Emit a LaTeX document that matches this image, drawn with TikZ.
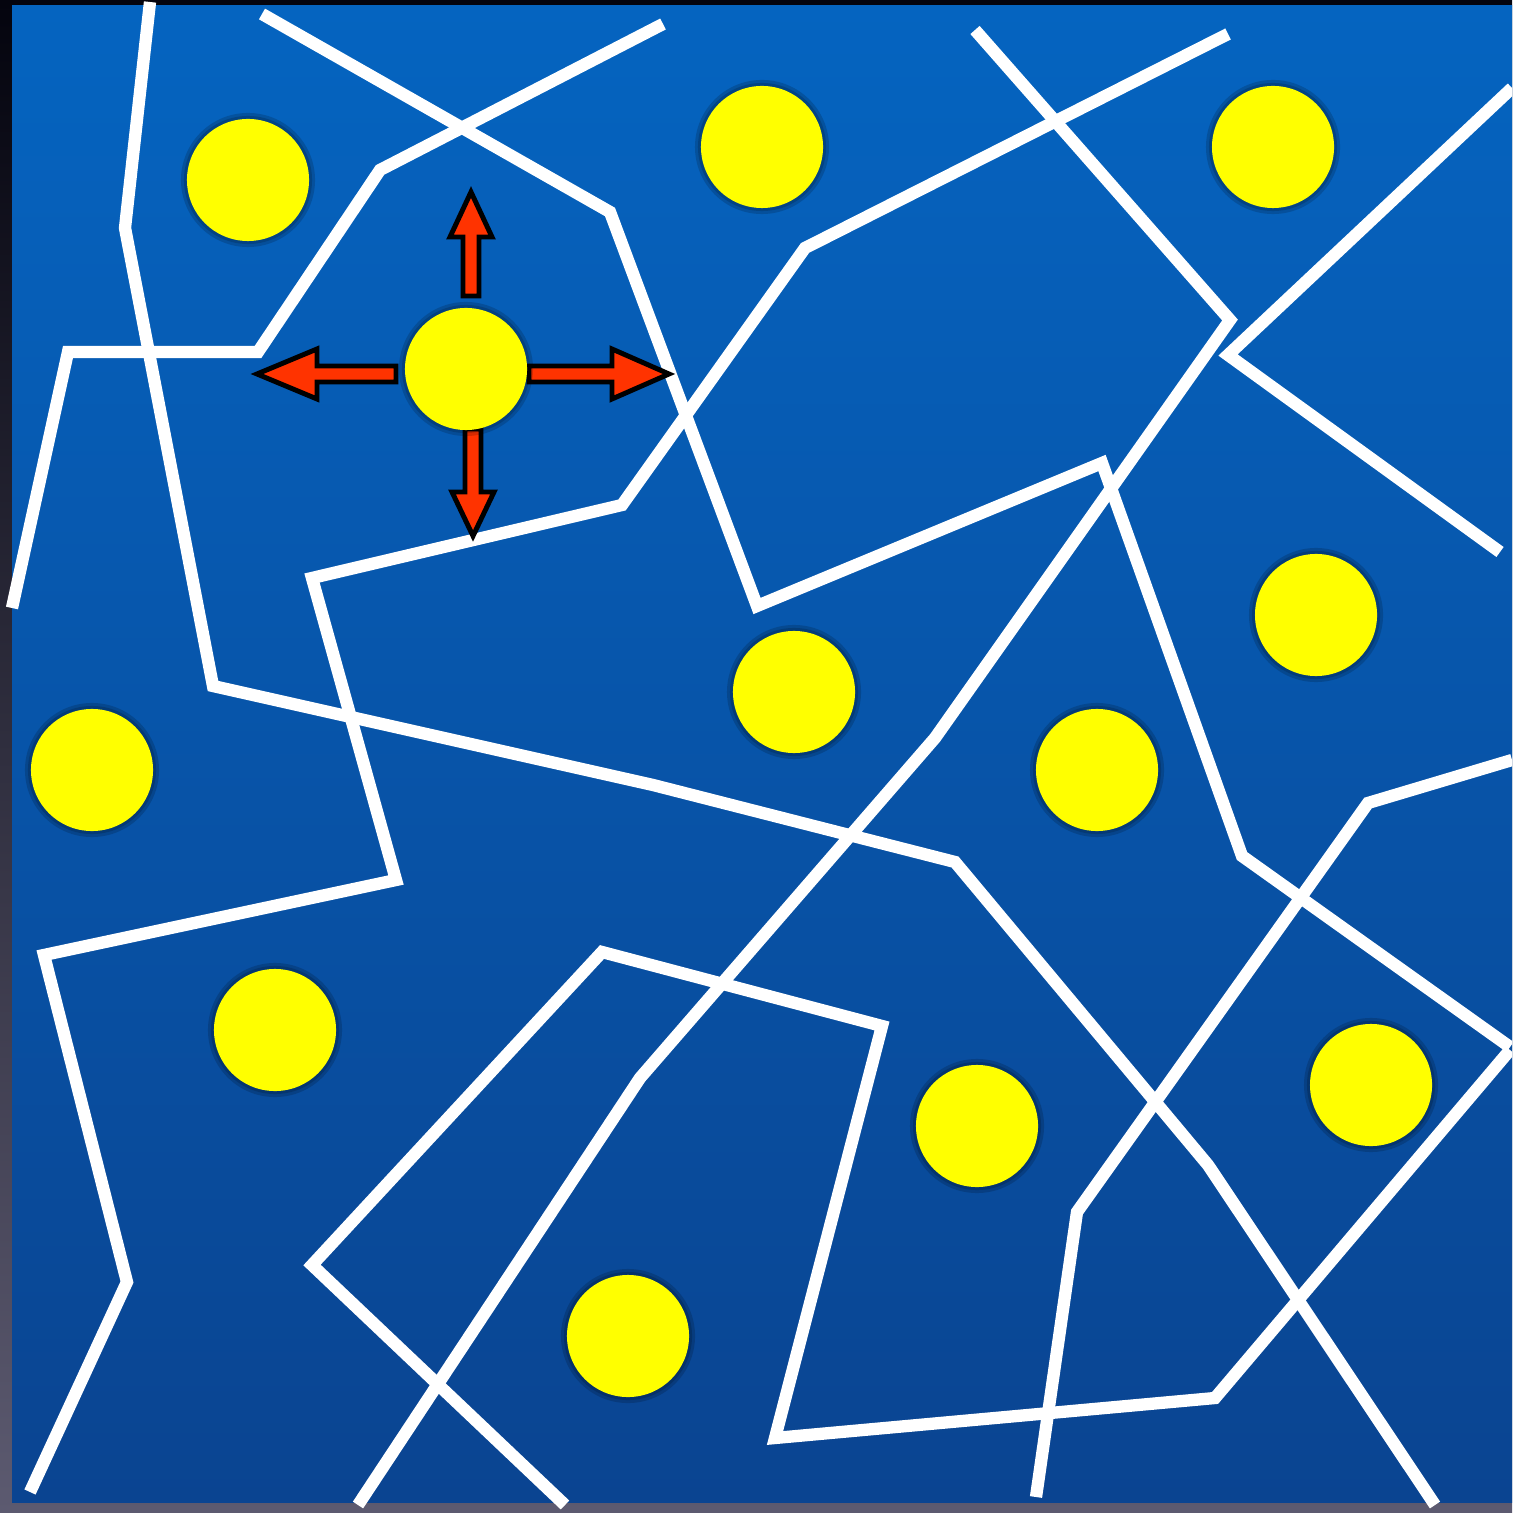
\documentclass[tikz,border=0pt]{standalone}
\begin{document}
\definecolor{bgtop}{RGB}{4,4,14}
\definecolor{bgbot}{RGB}{92,90,112}
\definecolor{bltop}{RGB}{5,100,192}
\definecolor{blbot}{RGB}{10,68,145}
\definecolor{dotyellow}{RGB}{255,255,0}
\definecolor{arrred}{RGB}{255,51,0}
\begin{tikzpicture}[x=0.01cm,y=-0.01cm,
  wall/.style={white,line width=3.5pt,line join=miter,miter limit=20},
  dot/.style={circle,fill=dotyellow,minimum size=1.22cm,inner sep=0pt},
  halo/.style={black,opacity=0.16},
  blockarrow/.style={fill=arrred,draw=black,line width=1.4pt,line join=miter}]
% background and board
\shade[top color=bgtop,bottom color=bgbot] (0,0) rectangle (1512,1513);
\useasboundingbox (0,0) rectangle (1512,1513);
\shade[top color=bltop,bottom color=blbot] (12,6) rectangle (1512,1502);
% walls
\begin{scope}
\clip (0,0) rectangle (1512,1513);
\draw[wall] (150,2) -- (125,228) -- (213,686) -- (653,785) -- (955,862) -- (1208,1165) -- (1435,1505);
\draw[wall] (262,14) -- (610,212) -- (757,606) -- (1102,463) -- (1242,856) -- (1510,1047);
\draw[wall] (663,24) -- (380,170) -- (258,352) -- (68,352) -- (12,608);
\draw[wall] (1228,34) -- (805,248) -- (622,505) -- (312,578) -- (396,880) -- (44,955) -- (127,1282) -- (30,1492);
\draw[wall] (975,30) -- (1230,320) -- (935,738) -- (640,1078) -- (358,1505);
\draw[wall] (1512,88) -- (1228,355) -- (1500,552);
\draw[wall] (1512,760) -- (1368,803) -- (1077,1212) -- (1036,1497);
\draw[wall] (565,1505) -- (312,1265) -- (602,952) -- (882,1026) -- (775,1438) -- (1215,1398) -- (1510,1050);
\end{scope}
% arrows
\draw[blockarrow] (463,296) -- (463,237) -- (450,237) -- (471,192) -- (492,237) -- (479,237) -- (479,296) -- cycle;
\draw[blockarrow] (396,366) -- (317,366) -- (317,349) -- (257,374) -- (317,399) -- (317,382) -- (396,382) -- cycle;
\draw[blockarrow] (529,366) -- (612,366) -- (612,349) -- (669,374) -- (612,399) -- (612,382) -- (529,382) -- cycle;
\draw[blockarrow] (465,429) -- (465,492) -- (452,492) -- (473,536) -- (494,492) -- (481,492) -- (481,429) -- cycle;
% dots
\foreach \n/\p in {d1/{(248,180)}, d2/{(762,147)}, d3/{(1273,147)}, d4/{(466,369)},
  d5/{(1316,615)}, d6/{(794,692)}, d7/{(92,770)}, d8/{(1097,770)},
  d9/{(275,1030)}, d10/{(977,1126)}, d11/{(1371,1085)}, d12/{(628,1336)}}{
  \fill[halo] \p circle[radius=0.67cm];
  \fill[halo] \p circle[radius=0.64cm];
  \node[dot] (\n) at \p {};
}
\end{tikzpicture}
\end{document}
